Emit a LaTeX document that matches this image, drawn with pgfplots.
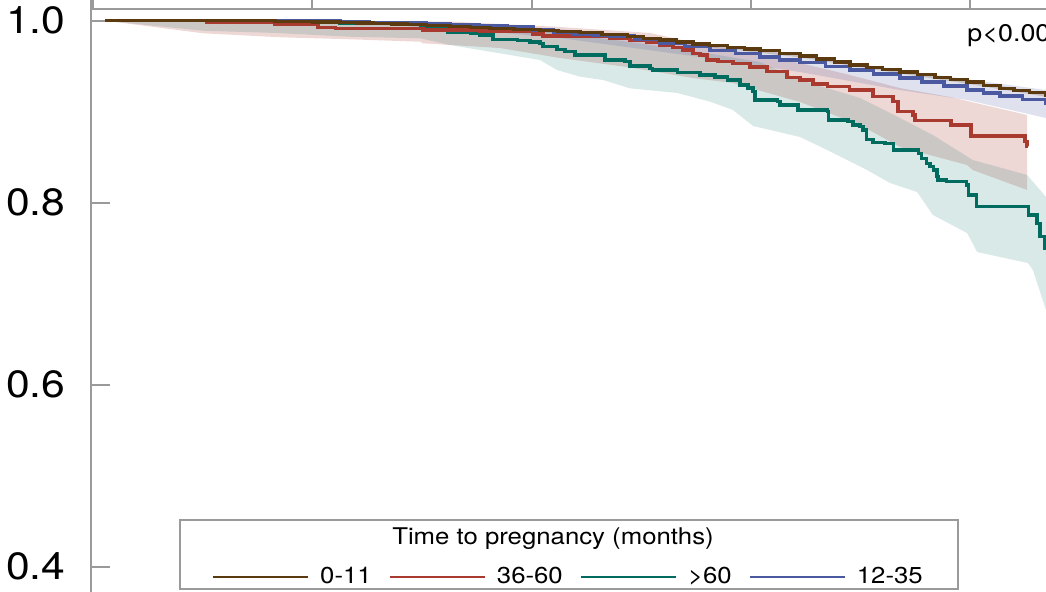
\documentclass[border=0pt]{standalone}
\usepackage{fontspec}
\setmainfont{TeX Gyre Heros}[FakeStretch=1.12]
\usepackage{pgfplots}
\pgfplotsset{compat=1.18}
\usepgfplotslibrary{fillbetween}

\definecolor{cbrown}{HTML}{5C3A0F}
\definecolor{cred}{HTML}{A83A30}
\definecolor{cteal}{HTML}{006B5F}
\definecolor{cblue}{HTML}{4B5AA0}
\definecolor{axgray}{HTML}{9A9A9A}

\newcommand{\legfont}{\fontsize{11.5pt}{13pt}\selectfont}

\begin{document}
\begin{tikzpicture}
\begin{axis}[
  name=main,
  scale only axis,
  width=477.5pt, height=291.5pt,
  xmin=-0.05, xmax=21.73,
  ymin=0.3722, ymax=1.0129,
  axis x line=none,
  axis y line=left,
  axis line style={-, draw=axgray, line width=1.3pt},
  ytick={0.4,0.6,0.8,1.0},
  yticklabels={0.4,0.6,0.8,1.0},
  tick align=inside,
  major tick length=9.5pt,
  tick style={draw=axgray, line width=1pt},
  yticklabel style={font=\fontsize{19pt}{22pt}\selectfont, inner sep=0pt, xshift=-12.7pt},
  legend columns=4,
  legend image code/.code={\draw[#1] (0pt,0pt) -- (47.5pt,0pt);},
  legend style={draw=none, fill=none, inner sep=0pt, outer sep=0pt,
    at={(axis description cs:0.1267,0.0257)}, anchor=west,
    font=\legfont, nodes={inner sep=0pt},
    /tikz/every odd column/.append style={column sep=5.5pt},
    /tikz/every even column/.append style={column sep=8.5pt}},
]
% legend entries in the reference order
\addlegendimage{cbrown, line width=1.1pt}\addlegendentry{0-11}
\addlegendimage{cred, line width=1.1pt}\addlegendentry{36-60}
\addlegendimage{cteal, line width=1.1pt}\addlegendentry{>60}
\addlegendimage{cblue, line width=1.1pt}\addlegendentry{12-35}

% ---- confidence bands ----
% 36-60
\addplot[name path=ru, draw=none, forget plot] coordinates {
  (0.27,1.0) (8.14,0.9991) (10.65,0.9931) (12.70,0.9865) (13.84,0.9744)
  (16.12,0.9535) (17.26,0.9403) (18.40,0.9260) (19.54,0.9162) (21.30,0.8964)};
\addplot[name path=rl, draw=none, forget plot] coordinates {
  (0.27,1.0) (2.51,0.9862) (4.27,0.9818) (5.86,0.9796) (7.46,0.9769)
  (7.52,0.9752) (9.28,0.9700) (10.65,0.9590) (12.18,0.9491) (13.68,0.9370)
  (14.59,0.9315) (16.12,0.9107) (17.49,0.8854) (18.40,0.8612) (19.93,0.8414)
  (20.06,0.8359) (21.30,0.8140)};
\addplot[fill=cred, fill opacity=0.2, draw=none, forget plot] fill between[of=ru and rl];
% >60
\addplot[name path=tu, draw=none, forget plot] coordinates {
  (0.27,1.0) (5.63,0.9997) (8.14,0.9964) (10.65,0.9865) (12.24,0.9766)
  (13.84,0.9656) (15.21,0.9546) (16.12,0.9348) (17.49,0.9151) (18.40,0.8931)
  (19.15,0.8744) (20.06,0.8469) (21.30,0.8305) (21.73,0.8063) (21.90,0.80)};
\addplot[name path=tl, draw=none, forget plot] coordinates {
  (0.27,1.0) (2.51,0.9890) (4.20,0.9865) (5.86,0.9824) (7.46,0.9807)
  (8.14,0.9733) (10.19,0.9568) (10.58,0.9458) (11.10,0.9385) (11.63,0.9348)
  (12.24,0.9257) (13.32,0.9206) (14.07,0.9110) (14.59,0.9019) (15.05,0.8843)
  (16.12,0.8722) (16.74,0.8579) (17.65,0.8359) (18.17,0.8217) (18.79,0.8118)
  (19.15,0.7865) (19.93,0.7667) (20.16,0.7458) (21.32,0.7337) (21.43,0.7260)
  (21.73,0.6821) (21.90,0.66)};
\addplot[fill=cteal, fill opacity=0.15, draw=none, forget plot] fill between[of=tu and tl];
% 12-35
\addplot[name path=bu, draw=none, forget plot] coordinates {
  (0.27,1.0) (8.14,0.9975) (10.65,0.9909) (13.84,0.9755) (16.12,0.9623)
  (18.40,0.9458) (21.73,0.9238) (21.90,0.9225)};
\addplot[name path=bl, draw=none, forget plot] coordinates {
  (0.27,1.0) (5.63,0.9975) (8.14,0.9920) (10.65,0.9810) (13.84,0.9601)
  (16.12,0.9436) (18.40,0.9238) (19.93,0.9129) (21.73,0.8931) (21.90,0.8915)};
\addplot[fill=cblue, fill opacity=0.18, draw=none, forget plot] fill between[of=bu and bl];
% 0-11
\addplot[name path=wu, draw=none, forget plot] coordinates {
  (0.27,1.0) (5.63,0.9990) (10.19,0.9900) (13.68,0.9756) (16.12,0.9625)
  (18.40,0.9450) (19.93,0.9342) (21.73,0.9202) (21.90,0.9190)};
\addplot[name path=wl, draw=none, forget plot] coordinates {
  (0.27,1.0) (5.63,0.9975) (10.19,0.9878) (13.68,0.9730) (16.12,0.9597)
  (18.40,0.9420) (19.93,0.9308) (21.73,0.9164) (21.90,0.9150)};
\addplot[fill=cbrown, fill opacity=0.2, draw=none, forget plot] fill between[of=wu and wl];

% ---- survival curves ----
\addplot[const plot, cteal, line width=1.7pt, forget plot] coordinates {
  (0.27,1.0) (5.63,0.9971) (7.46,0.9934) (8.07,0.9916) (8.09,0.9868)
  (8.60,0.9859) (8.82,0.9843) (9.12,0.9796) (9.67,0.9780) (9.96,0.9766)
  (10.19,0.9752) (10.26,0.9714) (10.58,0.9686) (10.76,0.9659) (10.99,0.9623)
  (11.67,0.9568) (12.13,0.9549) (12.24,0.9502) (12.70,0.9477) (12.75,0.9458)
  (13.32,0.9429) (13.84,0.9403) (14.18,0.9381) (14.46,0.9348) (14.75,0.9293)
  (14.93,0.9260) (15.05,0.9220) (15.09,0.9129) (15.60,0.9110) (15.66,0.9074)
  (16.07,0.9019) (16.74,0.9000) (16.77,0.8909) (17.21,0.8890) (17.33,0.8854)
  (17.49,0.8835) (17.56,0.8799) (17.64,0.8697) (17.78,0.8659) (18.06,0.8653)
  (18.25,0.8579) (18.82,0.8543) (18.89,0.8488) (19.01,0.8433) (19.08,0.8396)
  (19.16,0.8359) (19.24,0.8286) (19.27,0.8250) (19.46,0.8231) (19.92,0.8195)
  (19.96,0.8085) (20.15,0.7956) (21.33,0.7865) (21.52,0.7774) (21.59,0.7626)
  (21.71,0.7499) (21.90,0.7499)};
\addplot[const plot, cred, line width=1.7pt, forget plot] coordinates {
  (0.27,1.0) (2.60,0.9982) (4.15,0.9964) (5.13,0.9927) (5.52,0.9916)
  (7.52,0.9898) (8.82,0.9887) (9.39,0.9879) (10.03,0.9854) (10.26,0.9832)
  (11.10,0.9824) (11.79,0.9807) (12.24,0.9783) (12.63,0.9758) (12.93,0.9733)
  (13.22,0.9708) (13.45,0.9678) (13.68,0.9642) (13.84,0.9623) (14.00,0.9568)
  (14.25,0.9549) (14.59,0.9532) (14.98,0.9491) (15.37,0.9440) (15.82,0.9378)
  (16.12,0.9348) (16.42,0.9304) (16.74,0.9275) (17.25,0.9238) (17.78,0.9165)
  (18.24,0.9110) (18.35,0.9000) (18.70,0.8964) (18.74,0.8901) (19.56,0.8854)
  (20.02,0.8733) (21.25,0.8670) (21.30,0.8615) (21.33,0.8615)};
\addplot[const plot, cblue, line width=1.7pt, forget plot] coordinates {
  (0.27,1.0) (5.63,0.9991) (6.30,0.9983) (7.00,0.9975) (7.60,0.9964)
  (8.14,0.9953) (8.80,0.9945) (9.44,0.9936) (10.03,0.9898) (10.50,0.9876)
  (10.94,0.9854) (11.40,0.9843) (11.79,0.9832) (12.35,0.9795) (12.93,0.9755)
  (13.50,0.9714) (14.07,0.9673) (14.65,0.9637) (15.21,0.9601) (15.65,0.9570)
  (16.12,0.9540) (16.70,0.9499) (17.26,0.9458) (17.80,0.9414) (18.40,0.9370)
  (18.90,0.9326) (19.40,0.9282) (19.93,0.9238) (20.30,0.9205) (20.68,0.9173)
  (21.20,0.9135) (21.73,0.9096) (21.90,0.9096)};
\addplot[const plot, cbrown, line width=1.7pt, forget plot] coordinates {
  (0.27,1.0) (4.15,0.9991) (5.00,0.9987) (5.63,0.9982) (6.00,0.9976)
  (6.38,0.9971) (6.80,0.9966) (7.16,0.9960) (7.60,0.9948) (8.14,0.9934)
  (8.60,0.9925) (9.05,0.9916) (9.60,0.9903) (10.19,0.9890) (10.60,0.9880)
  (11.10,0.9868) (11.60,0.9848) (12.18,0.9824) (12.55,0.9806) (12.93,0.9788)
  (13.30,0.9766) (13.68,0.9744) (14.05,0.9727) (14.46,0.9708) (14.85,0.9689)
  (15.21,0.9670) (15.65,0.9642) (16.12,0.9612) (16.50,0.9580) (16.90,0.9545)
  (17.26,0.9513) (17.65,0.9486) (18.00,0.9462) (18.40,0.9436) (18.80,0.9407)
  (19.20,0.9378) (19.55,0.9352) (19.93,0.9326) (20.30,0.9291) (20.68,0.9257)
  (21.00,0.9234) (21.35,0.9210) (21.73,0.9184) (21.90,0.9184)};

\node[anchor=base west, inner sep=0pt, font=\fontsize{12pt}{14pt}\selectfont]
  at (axis cs:19.93,0.9769) {p<0.001};
\end{axis}

% bottom edge of the panel above
\begin{axis}[
  at={(main.north west)}, anchor=south west,
  scale only axis,
  width=477.5pt, height=4.5pt,
  xmin=-0.05, xmax=21.73, ymin=0, ymax=1,
  axis x line=bottom, axis y line=left,
  axis line style={-, draw=axgray, line width=1.3pt},
  xtick={0,5,10,15,20}, xticklabels={}, ytick=\empty,
  tick align=inside, major tick length=9.5pt,
  tick style={draw=axgray, line width=1pt},
]
\end{axis}

% legend frame and title
\draw[axgray, line width=1pt] ([xshift=44.5pt,yshift=1.5pt]main.south west) rectangle ++(389pt,34.5pt);
\node[anchor=base, inner sep=0pt, font=\legfont] at ([xshift=231pt,yshift=23.85pt]main.south west) {Time to pregnancy (months)};

\pgfresetboundingbox
\path[use as bounding box] ([xshift=-45.5pt]main.south west) rectangle ([yshift=4.5pt]main.north east);
\end{tikzpicture}
\end{document}
